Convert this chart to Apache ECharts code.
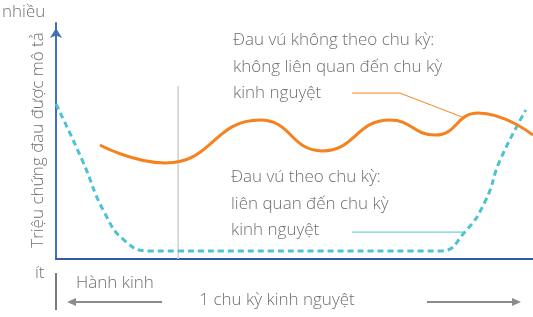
<!DOCTYPE html>
<html>
<head>
<meta charset="utf-8">
<script src="https://cdn.jsdelivr.net/npm/echarts@6/dist/echarts.min.js"></script>
<style>
html, body { margin: 0; padding: 0; background: #fff; }
#chart { width: 533px; height: 317px; }
</style>
</head>
<body>
<div id="chart"></div>
<script>
// vị trí trong chu kỳ (0-100) / mức độ triệu chứng (0-100)
let nonCyclicX = [9.2, 22.9, 42.8, 55.8, 70.0, 79.5, 88.5, 100]
let nonCyclicY = [48.3, 40.7, 58.9, 45.8, 58.9, 52.5, 61.9, 52.5]
let cyclicX = [0, 5.5, 10.1, 14.5, 19.7, 80.5, 85.7, 90.1, 93.1, 98.5]
let cyclicY = [65.7, 41.9, 19.9, 7.6, 3.4, 3.4, 11.4, 25.0, 41.9, 63.1]
// vạch hết hành kinh
let periodEndX = [25.6, 25.6]
let periodEndY = [0, 73.3]
// đường chú thích
let nonCyclicNoteX = [62.1, 72.1, 85.1]
let nonCyclicNoteY = [70.3, 70.3, 60.2]
let cyclicNoteX = [62.1, 85.3]
let cyclicNoteY = [11.4, 11.4]

let nonCyclicText = 'Đau vú không theo chu kỳ:\nkhông liên quan đến chu kỳ\nkinh nguyệt'
let cyclicText = 'Đau vú theo chu kỳ:\nliên quan đến chu kỳ\nkinh nguyệt'

let myChart = echarts.init(document.getElementById('chart'))

function pairs(xs, ys) {
  return xs.map((x, i) => [x, ys[i]])
}

const font = '"Open Sans", "Noto Sans", sans-serif'
const textColor = '#6f6f6f'
const orange = '#f5821f'
const cyan = '#4cc3d0'
const grey = '#8c8c8c'

function txt(x, y, text, extra) {
  return {
    type: 'text',
    x: x,
    y: y,
    style: Object.assign({
      text: text,
      font: '300 17px ' + font,
      fill: textColor,
      align: 'left',
      verticalAlign: 'middle'
    }, extra || {})
  }
}

let option = {
  animation: false,
  grid: { left: 56, right: 0, top: 23, bottom: 58 },
  xAxis: {
    type: 'value',
    min: 0,
    max: 100,
    axisLine: { show: true, onZero: false, lineStyle: { color: '#2f5ea4', width: 2 } },
    axisTick: { show: false },
    axisLabel: { show: false },
    splitLine: { show: false }
  },
  yAxis: {
    type: 'value',
    min: 0,
    max: 100,
    axisLine: {
      show: true,
      lineStyle: { color: '#3f71b8', width: 2 },
      symbol: ['none', 'arrow'],
      symbolSize: [9, 10],
      symbolOffset: [0, -5]
    },
    axisTick: { show: false },
    axisLabel: { show: false },
    splitLine: { show: false }
  },
  series: [
    {
      type: 'line',
      data: pairs(periodEndX, periodEndY),
      symbol: 'none',
      lineStyle: { color: '#cfcfcf', width: 1.5 }
    },
    {
      type: 'line',
      data: pairs(cyclicX, cyclicY),
      smooth: 0.5,
      symbol: 'none',
      lineStyle: { color: cyan, width: 3, type: [6, 4] }
    },
    {
      type: 'line',
      data: pairs(nonCyclicX, nonCyclicY),
      smooth: 0.5,
      symbol: 'none',
      lineStyle: { color: orange, width: 3 }
    },
    {
      type: 'line',
      data: pairs(nonCyclicNoteX, nonCyclicNoteY),
      symbol: 'none',
      lineStyle: { color: orange, width: 1 }
    },
    {
      type: 'line',
      data: pairs(cyclicNoteX, cyclicNoteY),
      symbol: 'none',
      lineStyle: { color: cyan, width: 1 }
    }
  ],
  graphic: [
    txt(2, 12, 'nhiều'),
    txt(35, 273, 'ít'),
    // chữ trục dọc xoay 90 độ
    {
      type: 'text',
      x: 38,
      y: 140,
      rotation: Math.PI / 2,
      style: {
        text: 'Triệu chứng đau được mô tả',
        font: '300 17px ' + font,
        fill: textColor,
        align: 'center',
        verticalAlign: 'middle'
      }
    },
    txt(233, 27, nonCyclicText, { verticalAlign: 'top', lineHeight: 26.5 }),
    txt(231, 164, cyclicText, { verticalAlign: 'top', lineHeight: 26.5 }),
    txt(76, 283, 'Hành kinh'),
    txt(277, 300, '1 chu kỳ kinh nguyệt', { align: 'center' }),
    // vạch đứng dưới trục
    { type: 'line', shape: { x1: 56, y1: 273, x2: 56, y2: 310 }, style: { stroke: '#7a7a7a', lineWidth: 2 } },
    // mũi tên trái
    { type: 'line', shape: { x1: 162, y1: 302, x2: 72, y2: 302 }, style: { stroke: grey, lineWidth: 2 } },
    { type: 'polygon', shape: { points: [[67, 302], [76, 298], [76, 306]] }, style: { fill: grey } },
    // mũi tên phải
    { type: 'line', shape: { x1: 427, y1: 302, x2: 516, y2: 302 }, style: { stroke: grey, lineWidth: 2 } },
    { type: 'polygon', shape: { points: [[521, 302], [512, 298], [512, 306]] }, style: { fill: grey } }
  ]
}

myChart.setOption(option)
</script>
</body>
</html>
